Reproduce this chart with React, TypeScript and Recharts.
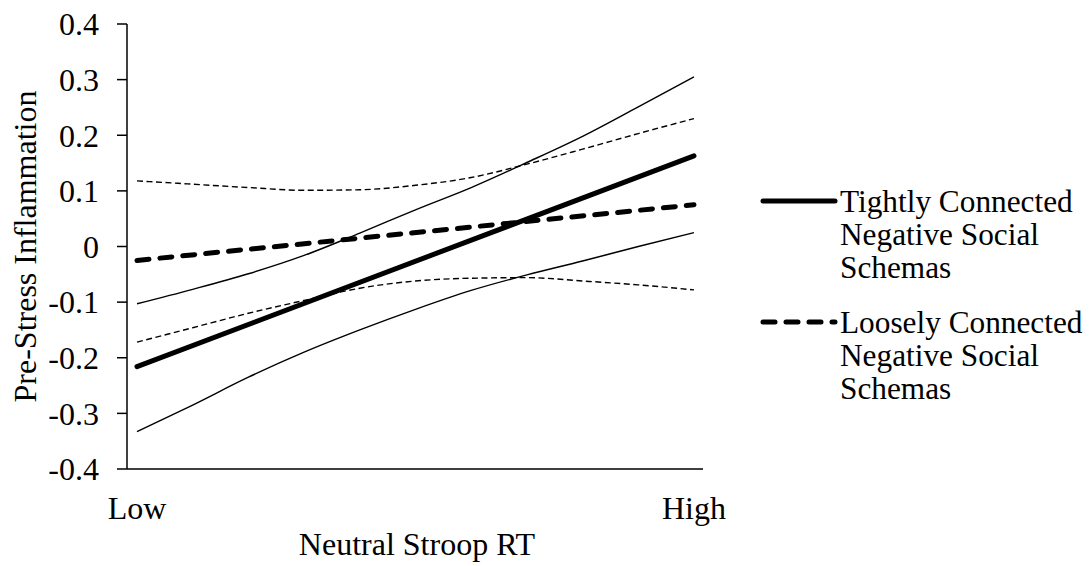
import { Label, Line, LineChart, XAxis, YAxis } from "recharts";

const FONT = "'Liberation Serif', 'Times New Roman', serif";
const INK = "#000";

// x positions along Neutral Stroop RT (0 = Low, 1 = High)
const bandX = [0, 0.1, 0.2, 0.3, 0.4, 0.5, 0.6, 0.7, 0.8, 0.9, 1];
const tightUpper = [-0.103, -0.077, -0.049, -0.016, 0.024, 0.066, 0.106, 0.151, 0.198, 0.251, 0.305];
const tightLower = [-0.333, -0.285, -0.235, -0.19, -0.15, -0.113, -0.079, -0.051, -0.026, 0.0, 0.025];
const looseUpper = [0.118, 0.112, 0.106, 0.101, 0.102, 0.11, 0.124, 0.148, 0.175, 0.203, 0.23];
const looseLower = [-0.172, -0.146, -0.12, -0.097, -0.075, -0.062, -0.057, -0.056, -0.062, -0.069, -0.078];

const mainX = [0, 1];
const tight = [-0.216, 0.163];
const loose = [-0.025, 0.075];

const yTicks = [-0.4, -0.3, -0.2, -0.1, 0, 0.1, 0.2, 0.3, 0.4];
const xTicks = [0, 1];
const xTickLabels = ["Low", "High"];

const bandData = bandX.map((x, i) => ({
  x, tu: tightUpper[i], tl: tightLower[i], lu: looseUpper[i], ll: looseLower[i],
}));
const mainData = mainX.map((x, i) => ({ x, tight: tight[i], loose: loose[i] }));

const TEXT = { fontFamily: FONT, fontSize: 32, fill: INK };

const legendRows = [
  { dash: undefined, lines: ["Tightly Connected", "Negative Social", "Schemas"] },
  { dash: "12 11", lines: ["Loosely Connected", "Negative Social", "Schemas"] },
];

function LegendBox() {
  return (
    <svg width={326} height={240}
      style={{ position: "absolute", left: 750, top: 176, overflow: "visible" }}>
      {legendRows.map((r, i) => {
        const y = 25 + i * 121;
        return (
          <g key={r.lines[0]}>
            <line x1={5} x2={77} y1={y} y2={y} stroke={INK} strokeWidth={5}
              strokeLinecap="round" strokeDasharray={r.dash} />
            {r.lines.map((t, j) => (
              <text key={j} x={82} y={y + j * 33} dominantBaseline="central"
                {...TEXT} fontSize={31.3}>{t}</text>
            ))}
          </g>
        );
      })}
    </svg>
  );
}

export default function App() {
  // pulled up over the body margin so the top tick label has room
  return (
    <div style={{ position: "relative", width: 1084, height: 566, marginTop: -8 }}>
      <LineChart width={1084} height={566}
        margin={{ top: 24, right: 389, bottom: 0, left: 0 }}>
        <XAxis dataKey="x" type="number" domain={[-0.01795, 1.0162]} ticks={xTicks}
          allowDataOverflow height={97} tickSize={0} tickMargin={27}
          tickFormatter={(v) => xTickLabels[xTicks.indexOf(v)] ?? ""}
          tick={{ ...TEXT }} axisLine={{ stroke: INK, strokeWidth: 1.5 }}>
          <Label content={(p: any) => {
            const vb = p.viewBox || { x: 119, y: 469, width: 576 };
            return (
              <text x={vb.x + vb.width / 2 + 2} y={vb.y + 75} textAnchor="middle"
                dominantBaseline="central" {...TEXT}>Neutral Stroop RT</text>
            );
          }} />
        </XAxis>
        <YAxis type="number" domain={[-0.4, 0.4]} ticks={yTicks} width={119}
          tickSize={10} tickMargin={18} interval={0}
          tickFormatter={(v) => (v === 0 ? "0" : Number(v).toFixed(1))}
          tick={{ ...TEXT }} axisLine={{ stroke: INK, strokeWidth: 1.5 }}
          tickLine={{ stroke: INK, strokeWidth: 1.5 }}>
          <Label content={(p: any) => {
            const vb = p.viewBox || { x: 0, y: 24, height: 445 };
            const cx = vb.x + 17;
            const cy = vb.y + vb.height / 2;
            return (
              <text x={cx} y={cy} textAnchor="middle" dominantBaseline="central"
                transform={`rotate(-90 ${cx} ${cy})`} {...TEXT}>Pre-Stress Inflammation</text>
            );
          }} />
        </YAxis>
        <Line data={bandData} dataKey="tu" type="monotone" stroke={INK} strokeWidth={1.4}
          dot={false} isAnimationActive={false} />
        <Line data={bandData} dataKey="tl" type="monotone" stroke={INK} strokeWidth={1.4}
          dot={false} isAnimationActive={false} />
        <Line data={bandData} dataKey="lu" type="monotone" stroke={INK} strokeWidth={1.4}
          strokeDasharray="6 3.5" dot={false} isAnimationActive={false} />
        <Line data={bandData} dataKey="ll" type="monotone" stroke={INK} strokeWidth={1.4}
          strokeDasharray="6 3.5" dot={false} isAnimationActive={false} />
        <Line data={mainData} dataKey="tight" type="linear" stroke={INK} strokeWidth={5}
          strokeLinecap="round" dot={false} isAnimationActive={false} />
        <Line data={mainData} dataKey="loose" type="linear" stroke={INK} strokeWidth={5}
          strokeLinecap="round" strokeDasharray="12 11" dot={false} isAnimationActive={false} />
      </LineChart>
      <LegendBox />
    </div>
  );
}
